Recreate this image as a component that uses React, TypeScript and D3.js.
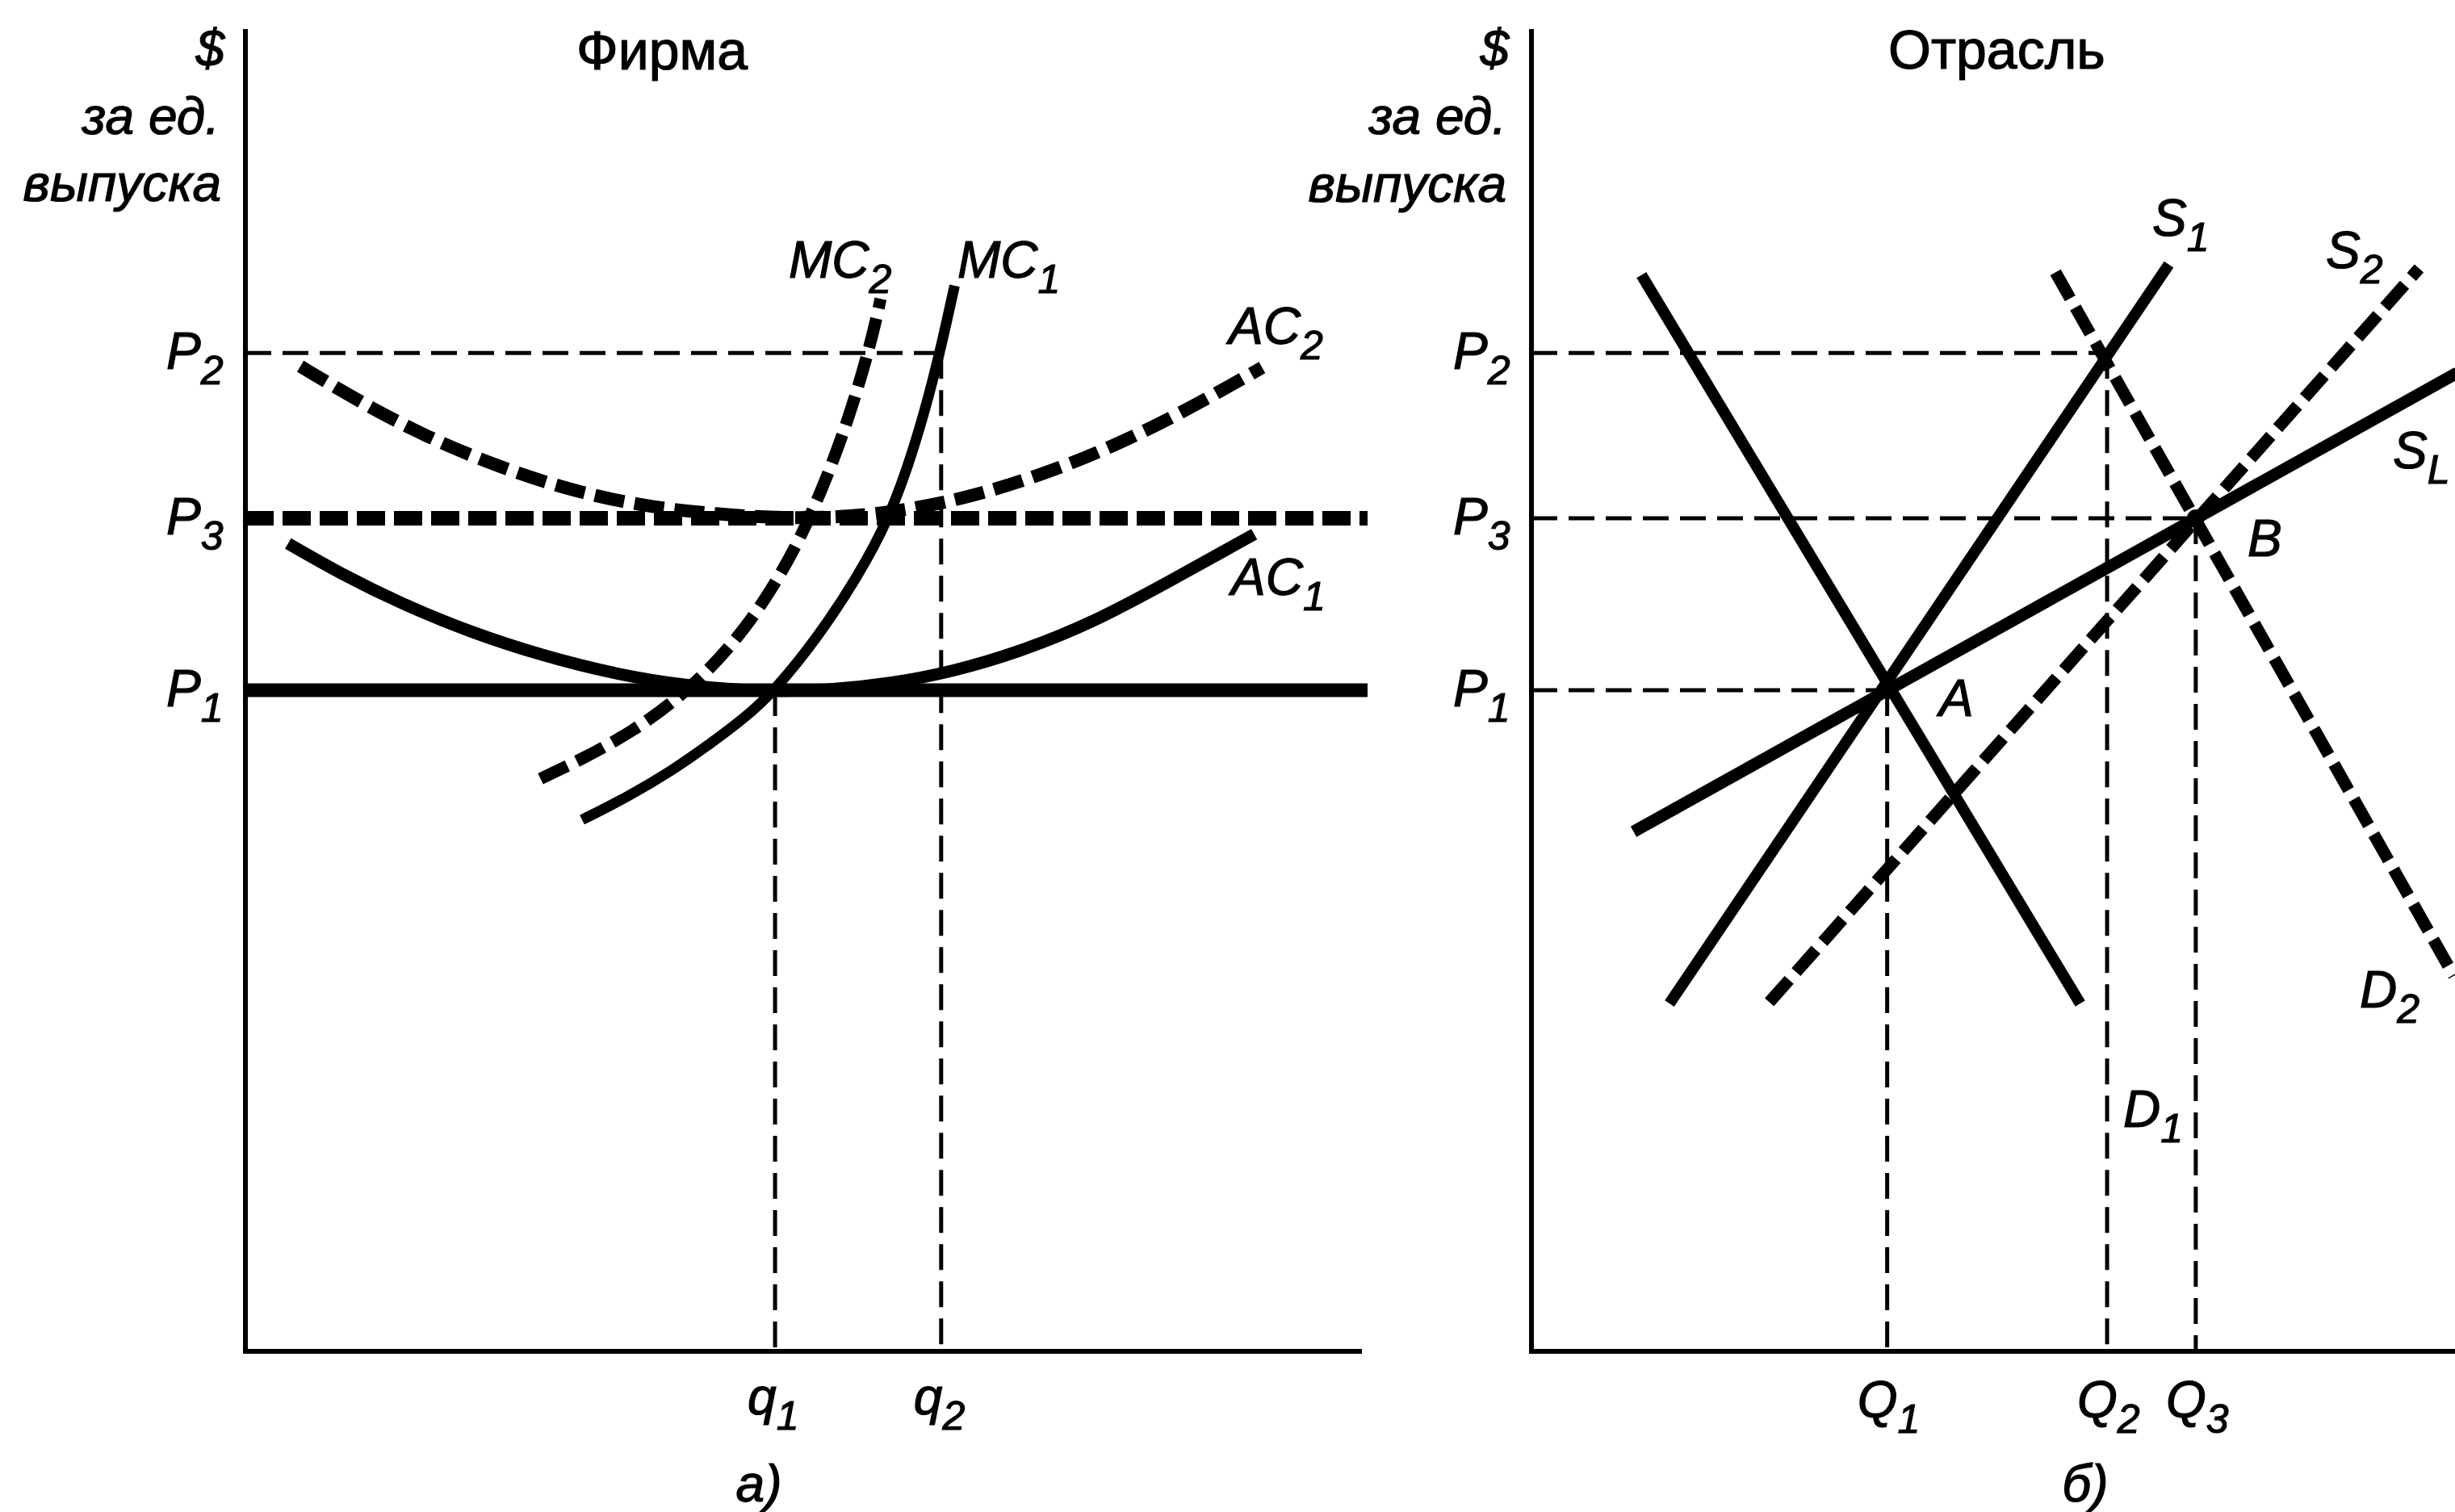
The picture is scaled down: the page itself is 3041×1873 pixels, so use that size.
import React from 'react';
import * as d3 from 'd3';

// ---------- data (abstract units, 0..100 on each axis) ----------
const priceNames = ['1', '3', '2'];
const priceValues = [50, 63, 75.5]; // P1, P3, P2

const firmQNames = ['1', '2'];
const firmQValues = [47.2, 62.0]; // q1, q2

const indQNames = ['1', '2', '3'];
const indQValues = [31.7, 51.3, 59.2]; // Q1, Q2, Q3

const mc1: [number, number][] = [
  [30.0, 40.2], [34.0, 41.9], [38.0, 43.9], [41.5, 46.0], [44.5, 47.9], [47.2, 50.0],
  [51.0, 54.0], [54.5, 58.5], [57.4, 63.0], [59.6, 68.3], [61.3, 73.5], [62.4, 77.5], [63.2, 80.6],
];
const mc2: [number, number][] = [
  [26.3, 43.3], [30.5, 45.0], [34.5, 46.9], [38.0, 49.0], [41.3, 51.5], [44.4, 54.5],
  [47.2, 58.0], [49.9, 62.2], [52.5, 67.5], [54.6, 72.8], [56.0, 77.2], [56.6, 79.6],
];
const ac1: [number, number][] = [
  [3.8, 61.1], [8.5, 58.8], [14.0, 56.5], [20.0, 54.4], [26.5, 52.6],
  [33.0, 51.2], [39.5, 50.3], [46.0, 49.9], [52.0, 50.0], [57.5, 50.5],
  [63.0, 51.4], [69.0, 52.9], [75.5, 55.1], [82.5, 58.3], [89.9, 61.8],
];
const ac2: [number, number][] = [
  [4.9, 74.5], [10.0, 71.9], [16.0, 69.2], [22.5, 66.9], [29.0, 65.1],
  [35.5, 63.9], [42.0, 63.3], [48.0, 63.0], [54.0, 63.1], [59.5, 63.7],
  [65.0, 64.7], [71.0, 66.3], [77.0, 68.3], [83.5, 71.0], [90.6, 74.4],
];

const d1: [number, number][] = [[9.8, 81.4], [48.9, 26.3]];
const d2: [number, number][] = [[46.7, 81.6], [82.2, 28.4]];
const s1: [number, number][] = [[12.3, 26.3], [56.8, 82.2]];
const s2: [number, number][] = [[21.2, 26.4], [79.1, 81.9]];
const sl: [number, number][] = [[9.1, 39.3], [82.5, 74.0]];

const pointA: [number, number] = [31.7, 50];
const pointB: [number, number] = [59.2, 63];

// ---------- scales ----------
const yS = d3.scaleLinear().domain([0, 100]).range([1674, 36]);
const xL = d3.scaleLinear().domain([0, 100]).range([304, 1694]);
const xR = d3.scaleLinear().domain([0, 100]).range([1897, 3287]);

const FONT = "'Liberation Sans', Arial, Helvetica, sans-serif";
const thinDash = '32 14';
const thickDash = '37 13';

function Lbl({ x, y, main, sub, italic = true, anchor = 'start', size = 64 }: any) {
  return (
    <text x={x} y={y} fontSize={size} fontStyle={italic ? 'italic' : 'normal'}
      textAnchor={anchor} fontFamily={FONT} fill="#000" stroke="#000" strokeWidth={1.2}>
      {main}
      {sub ? <tspan fontSize={50} dy={19}>{sub}</tspan> : null}
    </text>
  );
}

export default function App() {
  const lineL = d3.line<[number, number]>().x(d => xL(d[0])).y(d => yS(d[1])).curve(d3.curveBasis);
  const lineR = d3.line<[number, number]>().x(d => xR(d[0])).y(d => yS(d[1]));

  const P = (i: number) => priceValues[i];

  return (
    <svg width={3041} height={1873} style={{ position: 'absolute', left: 0, top: 0, background: '#fff' }}>
      <rect x={0} y={0} width={3041} height={1873} fill="#fff" />

      {/* ================= LEFT: Фирма ================= */}
      <g>
        <line x1={xL(0)} y1={yS(100)} x2={xL(0)} y2={yS(0)} stroke="#000" strokeWidth={6} />
        <line x1={xL(0) - 3} y1={yS(0)} x2={xL(99.5)} y2={yS(0)} stroke="#000" strokeWidth={6} />

        <line x1={xL(0)} y1={yS(P(2))} x2={xL(firmQValues[1])} y2={yS(P(2))} stroke="#000" strokeWidth={5} strokeDasharray={thinDash} />
        <line x1={xL(firmQValues[1])} y1={yS(P(2))} x2={xL(firmQValues[1])} y2={yS(0)} stroke="#000" strokeWidth={5} strokeDasharray={thinDash} />
        <line x1={xL(firmQValues[0])} y1={yS(P(0))} x2={xL(firmQValues[0])} y2={yS(0)} stroke="#000" strokeWidth={5} strokeDasharray={thinDash} />

        <line x1={xL(0)} y1={yS(P(0))} x2={xL(100)} y2={yS(P(0))} stroke="#000" strokeWidth={17} />
        <line x1={xL(0)} y1={yS(P(1))} x2={xL(100)} y2={yS(P(1))} stroke="#000" strokeWidth={18} strokeDasharray="35 11" />

        <path d={lineL(ac1) || ''} fill="none" stroke="#000" strokeWidth={15} />
        <path d={lineL(ac2) || ''} fill="none" stroke="#000" strokeWidth={16} strokeDasharray={thickDash} />
        <path d={lineL(mc1) || ''} fill="none" stroke="#000" strokeWidth={13} />
        <path d={lineL(mc2) || ''} fill="none" stroke="#000" strokeWidth={15} strokeDasharray={thickDash} />

        <Lbl x={278} y={82} main="$" anchor="end" />
        <Lbl x={272} y={166} main="за ед." anchor="end" />
        <Lbl x={274} y={249} main="выпуска" anchor="end" />
        <Lbl x={714} y={86} main="Фирма" italic={false} size={68} />

        {priceValues.map((v, i) => (
          <Lbl key={'pl' + i} x={xL(0) - 98} y={yS(v) + 20} main="P" sub={priceNames[i]} />
        ))}
        {firmQValues.map((v, i) => (
          <Lbl key={'ql' + i} x={xL(v) - 34} y={1752} main="q" sub={firmQNames[i]} />
        ))}

        <Lbl x={977} y={344} main="MC" sub="2" />
        <Lbl x={1186} y={344} main="MC" sub="1" />
        <Lbl x={1522} y={426} main="AC" sub="2" />
        <Lbl x={1525} y={737} main="AC" sub="1" />
        <Lbl x={940} y={1860} main="а)" anchor="middle" />
      </g>

      {/* ================= RIGHT: Отрасль ================= */}
      <g>
        <line x1={xR(0)} y1={yS(100)} x2={xR(0)} y2={yS(0)} stroke="#000" strokeWidth={6} />
        <line x1={xR(0) - 3} y1={yS(0)} x2={xR(100)} y2={yS(0)} stroke="#000" strokeWidth={6} />

        <line x1={xR(0)} y1={yS(P(2))} x2={xR(indQValues[1])} y2={yS(P(2))} stroke="#000" strokeWidth={5} strokeDasharray={thinDash} />
        <line x1={xR(0)} y1={yS(P(1))} x2={xR(indQValues[2])} y2={yS(P(1))} stroke="#000" strokeWidth={5} strokeDasharray={thinDash} />
        <line x1={xR(0)} y1={yS(P(0))} x2={xR(indQValues[0])} y2={yS(P(0))} stroke="#000" strokeWidth={5} strokeDasharray={thinDash} />
        <line x1={xR(indQValues[0])} y1={yS(P(0))} x2={xR(indQValues[0])} y2={yS(0)} stroke="#000" strokeWidth={5} strokeDasharray={thinDash} />
        <line x1={xR(indQValues[1])} y1={yS(P(2))} x2={xR(indQValues[1])} y2={yS(0)} stroke="#000" strokeWidth={5} strokeDasharray={thinDash} />
        <line x1={xR(indQValues[2])} y1={yS(P(1))} x2={xR(indQValues[2])} y2={yS(0)} stroke="#000" strokeWidth={5} strokeDasharray={thinDash} />

        <path d={lineR(d1) || ''} fill="none" stroke="#000" strokeWidth={14} />
        <path d={lineR(s1) || ''} fill="none" stroke="#000" strokeWidth={14} />
        <path d={lineR(sl) || ''} fill="none" stroke="#000" strokeWidth={15} />
        <path d={lineR(d2) || ''} fill="none" stroke="#000" strokeWidth={15} strokeDasharray={thickDash} />
        <path d={lineR(s2) || ''} fill="none" stroke="#000" strokeWidth={15} strokeDasharray={thickDash} />

        <circle cx={xR(pointA[0])} cy={yS(pointA[1])} r={11} fill="#000" />
        <circle cx={xR(pointB[0])} cy={yS(pointB[1])} r={11} fill="#000" />

        <Lbl x={1869} y={82} main="$" anchor="end" />
        <Lbl x={1866} y={166} main="за ед." anchor="end" />
        <Lbl x={1866} y={250} main="выпуска" anchor="end" />
        <Lbl x={2339} y={85} main="Отрасль" italic={false} size={68} />

        {priceValues.map((v, i) => (
          <Lbl key={'pr' + i} x={xR(0) - 97} y={yS(v) + 20} main="P" sub={priceNames[i]} />
        ))}
        {indQValues.map((v, i) => (
          <Lbl key={'qr' + i} x={xR(v) - 37} y={1756} main="Q" sub={indQNames[i]} />
        ))}

        <Lbl x={2666} y={292} main="S" sub="1" />
        <Lbl x={2881} y={332} main="S" sub="2" />
        <Lbl x={2964} y={580} main="S" sub="L" />
        <Lbl x={2784} y={689} main="B" />
        <Lbl x={2402} y={887} main="A" />
        <Lbl x={2630} y={1396} main="D" sub="1" />
        <Lbl x={2923} y={1248} main="D" sub="2" />
        <Lbl x={2583} y={1860} main="б)" anchor="middle" />
      </g>
    </svg>
  );
}
